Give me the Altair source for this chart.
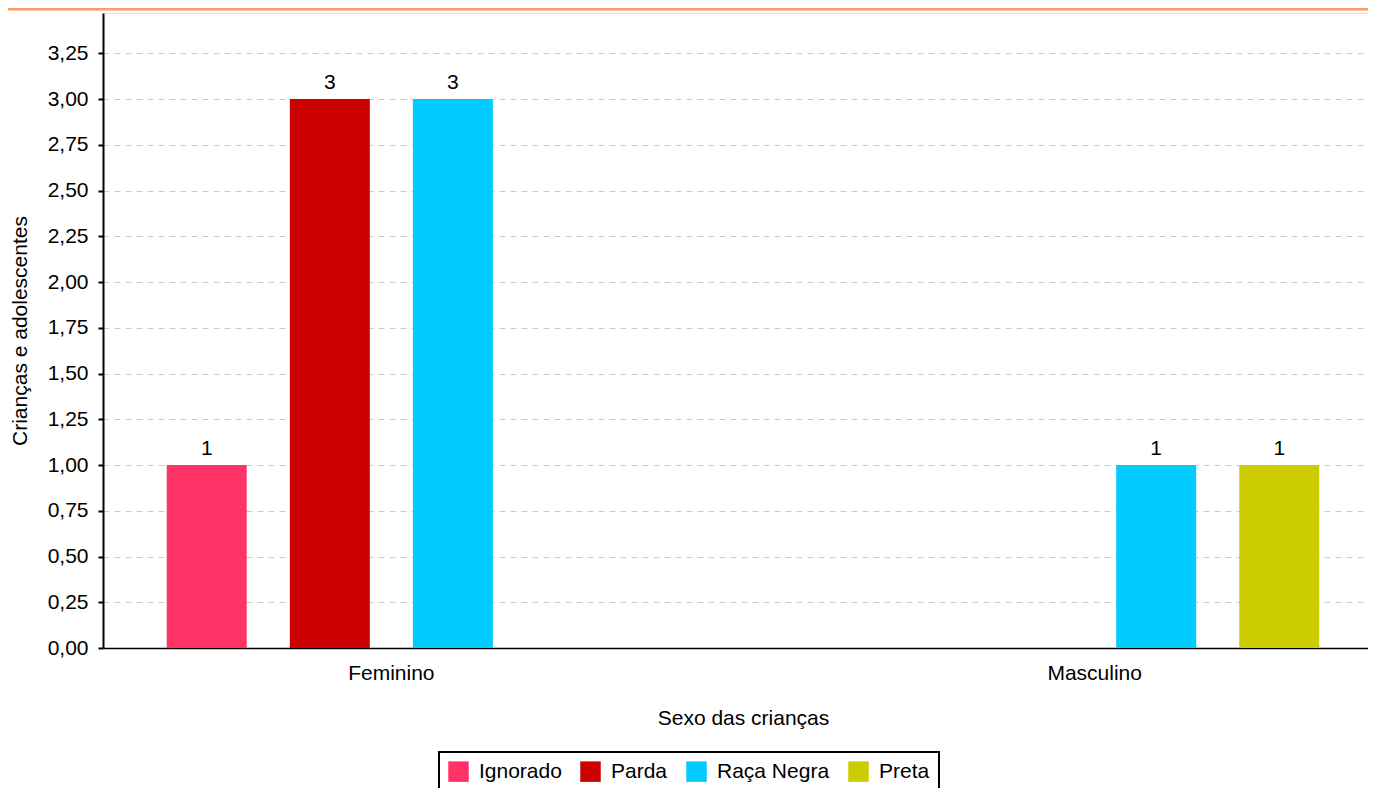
import altair as alt
import pandas as pd

sexo = ["Feminino", "Feminino", "Feminino", "Masculino", "Masculino"]
raca = ["Ignorado", "Parda", "Raça Negra", "Raça Negra", "Preta"]
valores = [1, 3, 3, 1, 1]

racas_ordem = ["Ignorado", "Parda", "Raça Negra", "Preta"]
cores = ["#ff3366", "#cc0000", "#00ccff", "#cccc00"]
sexos_ordem = ["Feminino", "Masculino"]
y_ticks = [0, 0.25, 0.5, 0.75, 1.0, 1.25, 1.5, 1.75, 2.0, 2.25, 2.5, 2.75, 3.0, 3.25]

df = pd.DataFrame({"sexo": sexo, "raca": raca, "valor": valores})

W = 1265
H = 635
FONT = "Liberation Sans"
FS = 21

x_enc = alt.X("sexo:N", sort=sexos_ordem,
              scale=alt.Scale(domain=sexos_ordem, range=[0, 1280],
                              paddingInner=0.30, paddingOuter=0.06),
              axis=alt.Axis(title="Sexo das crianças", labelAngle=0, ticks=False,
                            labelPadding=14, titlePadding=24, domainColor="#000000",
                            domainWidth=1.5, labelFontSize=FS, titleFontSize=FS,
                            titleFontWeight="normal", labelColor="#000", titleColor="#000"))
xo_enc = alt.XOffset("raca:N", sort=racas_ordem,
                     scale=alt.Scale(domain=racas_ordem, paddingInner=0.35, paddingOuter=0.175))
y_enc = alt.Y("valor:Q",
              scale=alt.Scale(domain=[0, 3.47], nice=False, zero=True),
              axis=alt.Axis(title="Crianças e adolescentes", values=y_ticks,
                            labelExpr="replace(format(datum.value, '.2f'), '.', ',')",
                            grid=True, gridDash=[6, 5], gridColor="#cccccc", gridWidth=1,
                            domainColor="#000000", domainWidth=2, tickColor="#000000",
                            tickWidth=2, tickSize=5, labelPadding=10, titlePadding=17,
                            labelFontSize=FS, titleFontSize=FS, titleFontWeight="normal",
                            labelColor="#000", titleColor="#000"))

color_enc = alt.Color("raca:N", sort=racas_ordem,
                      scale=alt.Scale(domain=racas_ordem, range=cores),
                      legend=alt.Legend(title=None, orient="none", direction="horizontal",
                                        legendX=336, legendY=739,
                                        symbolType="square", symbolSize=420,
                                        symbolStrokeWidth=0, labelFontSize=FS,
                                        labelColor="#000", labelOffset=10,
                                        columnPadding=18, padding=9,
                                        strokeColor="#000000", fillColor="#ffffff"))

base = alt.Chart(df)

bars = base.mark_bar().encode(x=x_enc, xOffset=xo_enc, y=y_enc, color=color_enc)

labels = base.mark_text(baseline="alphabetic", dy=-10, fontSize=FS, color="#000", font=FONT).encode(
    x=alt.X("sexo:N", sort=sexos_ordem), xOffset=alt.XOffset("raca:N", sort=racas_ordem),
    y="valor:Q", text=alt.Text("valor:Q", format="d"))

top_line = alt.Chart(pd.DataFrame({"a": [0]})).mark_rule(color="#ff9966", strokeWidth=3).encode(
    x=alt.value(-95), x2=alt.value(W), y=alt.value(-4))

chart = alt.layer(bars, labels, top_line).properties(
    width=W, height=H,
    autosize=alt.AutoSizeParams(type="none"),
    padding={"left": 95, "top": 5, "right": 0, "bottom": 140},
).configure_view(stroke=None).configure(font=FONT).configure_legend(strokeWidth=2)

chart.save("out.html", embed_options={"renderer": "svg", "actions": False})
